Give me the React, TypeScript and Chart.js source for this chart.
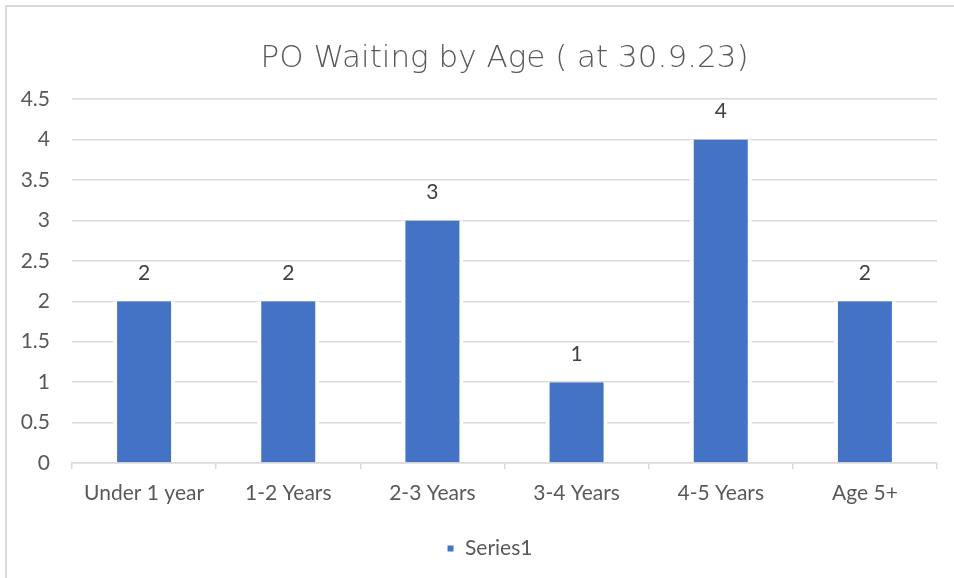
import React, { useEffect, useRef } from "react";
import { Chart, registerables } from "chart.js";

Chart.register(...registerables);

const categories = ["Under 1 year", "1-2 Years", "2-3 Years", "3-4 Years", "4-5 Years", "Age 5+"];
const seriesName = "Series1";
const seriesValues = [2, 2, 3, 1, 4, 2];
const titleText = "PO Waiting by Age ( at 30.9.23)";
const yMin = 0;
const yMax = 4.5;
const yStep = 0.5;

const BAR_COLOR = "#4472C4";
const GRID_COLOR = "#D9D9D9";
const TEXT_COLOR = "#595959";
const LABEL_FONT = "Lato, 'Open Sans', sans-serif";
const FS = 21;

const dataLabelPlugin = {
  id: "dataLabels",
  afterLayout(chart: any) {
    // Excel centres the legend slightly right of the canvas centre
    if (chart.legend) chart.legend.left = chart.legend.left + 42;
  },
  afterDatasetsDraw(chart: any) {
    const ctx = chart.ctx;
    ctx.save();
    ctx.font = `${FS}px ${LABEL_FONT}`;
    ctx.fillStyle = "#404040";
    ctx.textAlign = "center";
    ctx.textBaseline = "middle";
    chart.data.datasets.forEach((ds: any, i: number) => {
      const meta = chart.getDatasetMeta(i);
      meta.data.forEach((el: any, j: number) => {
        ctx.fillText(String(ds.data[j]), el.x, el.y - 28);
      });
    });
    ctx.restore();
  },
};

export default function App() {
  const ref = useRef<HTMLCanvasElement | null>(null);

  useEffect(() => {
    if (!ref.current) return;
    const chart = new Chart(ref.current, {
      type: "bar",
      data: {
        labels: categories,
        datasets: [
          {
            label: seriesName,
            data: seriesValues,
            backgroundColor: BAR_COLOR,
            borderColor: "#FFFFFF",
            borderWidth: { left: 4, right: 4, top: 0, bottom: 0 },
            borderSkipped: false,
            categoryPercentage: 1,
            barPercentage: 0.43,
          },
        ],
      },
      options: {
        animation: false,
        responsive: false,
        layout: { padding: { left: 0, right: 17, top: 0, bottom: 9 } },
        plugins: {
          title: {
            display: true,
            fullSize: false,
            text: titleText,
            color: TEXT_COLOR,
            font: { family: "'DejaVu Sans'", size: 31, weight: "200" as any },
            padding: { top: 40, bottom: 22 },
          },
          legend: {
            position: "bottom",
            labels: {
              color: TEXT_COLOR,
              font: { family: LABEL_FONT, size: FS },
              boxWidth: 8,
              boxHeight: 8,
              padding: 10,
            },
          },
          tooltip: { enabled: false },
        },
        scales: {
          x: {
            grid: {
              display: true,
              drawOnChartArea: false,
              drawTicks: true,
              tickLength: 6,
              color: GRID_COLOR,
              lineWidth: 1.5,
              offset: true,
            },
            border: { display: true, color: GRID_COLOR, width: 1.5 },
            ticks: {
              color: TEXT_COLOR,
              font: { family: LABEL_FONT, size: FS },
              padding: 12,
              maxRotation: 0,
            },
            afterFit(scale: any) {
              scale.height = 65;
            },
          },
          y: {
            min: yMin,
            max: yMax,
            grid: { color: GRID_COLOR, lineWidth: 1.5, drawTicks: false },
            border: { display: false },
            ticks: {
              stepSize: yStep,
              color: TEXT_COLOR,
              font: { family: LABEL_FONT, size: FS },
              padding: 22,
              callback: (v: any) => String(v),
            },
            afterFit(scale: any) {
              scale.width = 72;
            },
          },
        },
      },
      plugins: [dataLabelPlugin],
    });
    return () => chart.destroy();
  }, []);

  return (
    <div style={{ position: "fixed", left: 0, top: 0, width: 954, height: 578, background: "#fff", overflow: "hidden" }}>
      <div
        style={{
          position: "absolute",
          left: 5,
          top: 5,
          width: 1000,
          height: 700,
          border: `2px solid ${GRID_COLOR}`,
          boxSizing: "border-box",
        }}
      />
      <canvas ref={ref} width={954} height={578} style={{ position: "absolute", left: 0, top: 0, width: 954, height: 578 }} />
    </div>
  );
}
